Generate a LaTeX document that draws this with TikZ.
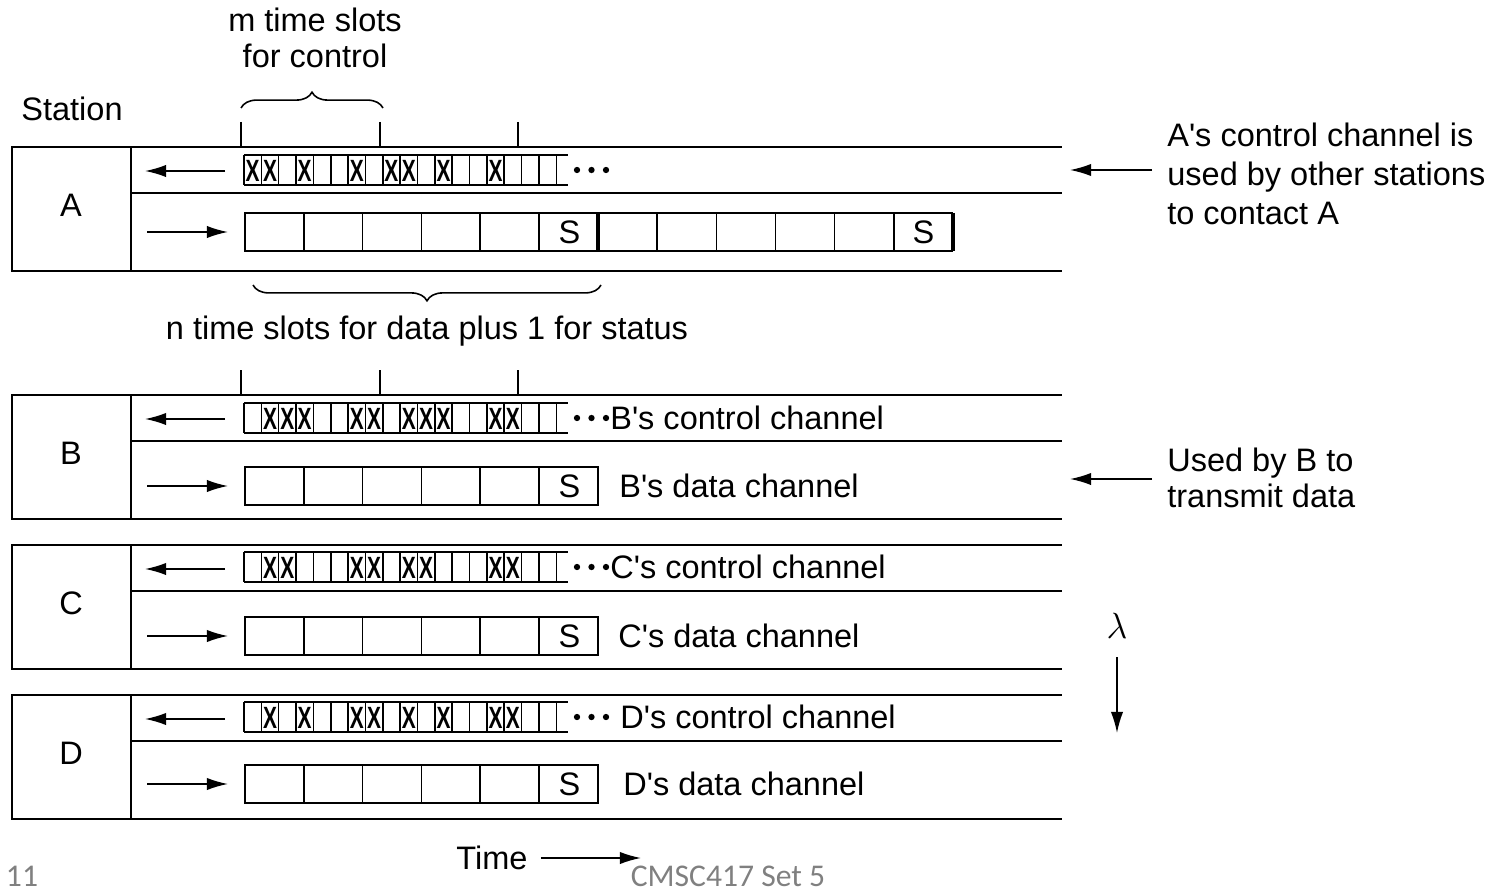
\documentclass[tikz,border=0pt]{standalone}
\usepackage{fontspec}
\setmainfont{Liberation Sans}
\newfontfamily\footfont{Carlito}
\usetikzlibrary{arrows.meta, calc, decorations.pathreplacing}

\definecolor{footgray}{RGB}{128,128,128}
\newcommand{\sq}{\textquotesingle}

\tikzset{
	lbl/.style={font=\fontsize{18.5}{20}\selectfont, inner sep=0pt},
	frame/.style={line width=1.1pt},
	cell/.style={line width=0.9pt},
	thickcell/.style={line width=1.9pt},
	arr/.style={line width=0.9pt, -{Latex[length=12pt, width=7pt]}},
	xmark/.style={font=\fontsize{17.5}{17.5}\selectfont\bfseries, inner sep=0pt},
	brc/.style={line width=0.9pt, decorate, decoration={brace, amplitude=9pt}},
	foot/.style={font=\footfont\fontsize{18}{18}\selectfont, text=footgray, inner sep=0pt}
}

% one station: frame, letter and the two arrows
\newcommand{\stationbox}[3]{%
	\draw[frame] (12,#2) rectangle (131,#2+124);
	\draw[frame] (131,#2) -- (1062,#2) (131,#2+46) -- (1062,#2+46) (131,#2+124) -- (1062,#2+124);
	\node[lbl] (st#1) at (71,#2+58) {#1};
	\draw[arr] (225,#2+24) -- (145,#2+24);
	\draw[arr] (147,#3-4) -- (228,#3-4);
}

% control slots, X in the slots listed
\newcommand{\ctrlrow}[3]{%
	\draw[cell] (244,#2-15) -- (568,#2-15) (244,#2+15) -- (568,#2+15);
	\foreach \k in {0,...,18}
		\draw[cell] (244+\k*17.35,#2-15) -- (244+\k*17.35,#2+15);
	\foreach \k in {#3}
		\node[xmark] (x#1-\k) at (244+\k*17.35-8.7,#2+0.5) {\scalebox{0.68}[1]{X}};
	\foreach \d in {0,1,2}
		\fill (577+\d*14.5,#2) circle (1.8pt);
}

% n data slots plus the status slot
\newcommand{\datarow}[2]{%
	\draw[cell] (245,#2-19) rectangle (598,#2+19);
	\foreach \k in {1,...,5}
		\draw[cell] (245+\k*58.8,#2-19) -- (245+\k*58.8,#2+19);
	\node[lbl] (s#1) at (569.5,#2) {S};
}

\begin{document}
\begin{tikzpicture}[x=0.02cm, y=-0.02cm]
	\useasboundingbox (0,0) rectangle (1499,892);

	% headings
	\node[lbl, align=center, anchor=north] (mslots) at (315,8) {m time slots\\for control};
	\draw[brc] (241,108) -- (383,108);
	\node[lbl] (station) at (72,109) {Station};
	\foreach \x in {241,380,518}
		\draw[cell] (\x,122) -- (\x,147);

	% station A
	\stationbox{A}{147}{236}
	\ctrlrow{A}{170}{1,2,4,7,9,10,12,15}
	\datarow{A}{232}
	\draw[cell] (598,213) -- (953,213) (598,251) -- (953,251);
	\foreach \k in {1,...,5}
		\draw[cell] (598+\k*59.17,213) -- (598+\k*59.17,251);
	\draw[thickcell] (598,213) -- (598,251) (953,213) -- (953,251);
	\node[lbl] (sA2) at (923.5,232) {S};

	\draw[brc] (601,285) -- (253,285);
	\node[lbl, anchor=base] (nslots) at (427,339) {n time slots for data plus 1 for status};

	\node[lbl, align=left, anchor=north west, font=\fontsize{18.5}{22}\selectfont] (noteA) at (1167,123) {A\sq s control channel is\\used by other stations\\to contact A};
	\coordinate (tipA) at (1070,170);
	\draw[arr] ([xshift=-0.3cm]noteA.west |- tipA) -- (tipA);

	% station B
	\foreach \x in {241,380,518}
		\draw[cell] (\x,370) -- (\x,395);
	\stationbox{B}{395}{490}
	\ctrlrow{B}{418}{2,3,4,7,8,10,11,12,15,16}
	\datarow{B}{486}
	\node[lbl, anchor=west] (bctrl) at (610,418) {B\sq s control channel};
	\node[lbl, anchor=west] (bdata) at (619,486) {B\sq s data channel};

	\node[lbl, align=left, anchor=north west] (noteB) at (1167,448) {Used by B to\\transmit data};
	\coordinate (tipB) at (1070,479);
	\draw[arr] ([xshift=-0.3cm]noteB.west |- tipB) -- (tipB);

	% station C
	\stationbox{C}{545}{640}
	\ctrlrow{C}{567}{2,3,7,8,10,11,15,16}
	\datarow{C}{636}
	\node[lbl, anchor=west] (cctrl) at (610,567) {C\sq s control channel};
	\node[lbl, anchor=west] (cdata) at (618,636) {C\sq s data channel};

	% station D
	\stationbox{D}{695}{788}
	\ctrlrow{D}{717}{2,4,7,8,10,12,15,16}
	\datarow{D}{784}
	\node[lbl, anchor=west] (dctrl) at (620,717) {D\sq s control channel};
	\node[lbl, anchor=west] (ddata) at (623,784) {D\sq s data channel};

	% wavelength and time
	\node[lbl, font=\fontsize{22}{22}\selectfont] (lam) at (1117,626) {$\lambda$};
	\coordinate (lamtip) at (1117,733);
	\draw[arr] (1117,657) -- (lamtip);

	\node[lbl] (time) at (492,858) {Time};
	\coordinate (timetip) at (641,858);
	\draw[arr] ([xshift=0.26cm]time.east) -- (timetip);

	\node[foot] (pg) at (22,876) {11};
	\node[foot] (course) at (728,876) {CMSC417 Set 5};
\end{tikzpicture}
\end{document}
